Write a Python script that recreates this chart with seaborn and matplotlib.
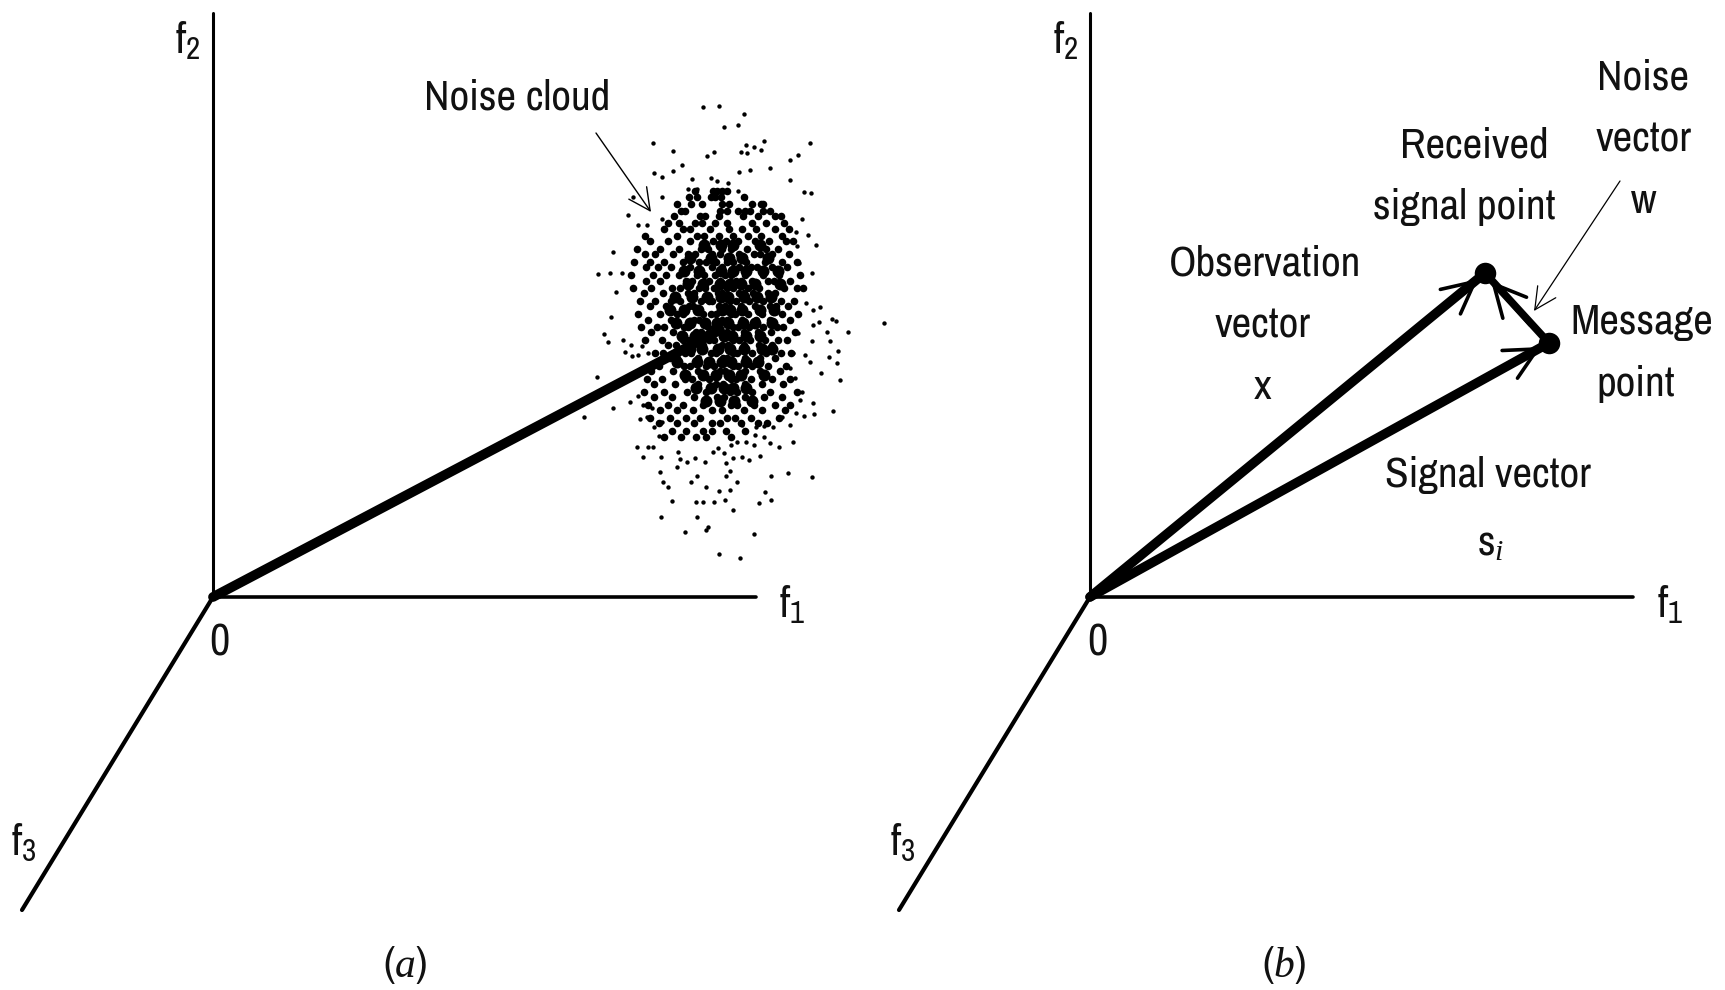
import matplotlib
matplotlib.use('Agg')
import matplotlib.pyplot as plt
import seaborn as sns

sns.set_style('white')
plt.rcParams['font.family'] = ['Archivo Narrow', 'Liberation Sans', 'DejaVu Sans']
plt.rcParams['mathtext.fontset'] = 'custom'
plt.rcParams['mathtext.rm'] = 'Archivo Narrow'
plt.rcParams['mathtext.it'] = 'Liberation Serif:italic'

origin_a = (213, 597)
origin_b = (1090, 597)
f1_len = 543
f2_top = 13
f3_end_dx = -191
f3_end_dy = 313

signal_a_end = (720, 330)
received_pt = (1485, 273)
message_pt = (1549, 343)

# sparse specks around the noise cloud
sparse_x = [703, 719, 744, 724, 738, 653, 673, 707, 714, 741, 746, 747, 754, 761, 764, 810, 798, 790, 770,
            654, 662, 673, 682, 739, 750, 790, 692, 711, 717, 728, 738, 688, 697, 804, 811, 662, 633, 745,
            628, 638, 647, 662, 802, 808, 816, 796, 797, 799, 812, 613, 598, 610, 622, 616, 611, 806, 813,
            820, 813, 819, 832, 836, 884, 604, 608, 623, 625, 631, 632, 638, 642, 648, 597, 638, 630, 613,
            584, 643, 652, 659, 640, 647, 654, 662, 659, 637, 648, 653, 643, 661, 678, 677, 680, 687, 695,
            705, 713, 718, 724, 726, 733, 742, 749, 760, 731, 737, 746, 754, 770, 779, 793, 660, 697, 691,
            663, 668, 706, 719, 730, 726, 730, 737, 771, 788, 812, 765, 759, 771, 672, 696, 703, 714, 725,
            733, 661, 697, 685, 706, 708, 754, 719, 740, 848, 827, 830, 812, 798, 838, 829, 837, 821, 840,
            810, 793, 805, 790, 795, 802, 800, 813, 814, 833, 804, 796, 782, 790, 773, 764, 756, 742, 755, 764]
sparse_y = [107, 106, 114, 127, 125, 143, 151, 156, 152, 152, 145, 153, 147, 150, 141, 143, 155, 160, 168,
            173, 177, 171, 165, 172, 170, 180, 179, 178, 181, 183, 191, 189, 189, 192, 193, 197, 197, 198,
            215, 225, 225, 219, 219, 235, 245, 232, 246, 263, 273, 252, 274, 273, 273, 292, 317, 303, 310,
            307, 325, 322, 319, 321, 323, 334, 342, 340, 352, 345, 356, 355, 346, 353, 377, 396, 402, 408,
            417, 405, 408, 411, 419, 417, 427, 422, 436, 447, 447, 447, 457, 457, 452, 467, 459, 462, 458,
            462, 452, 448, 453, 463, 458, 457, 460, 456, 445, 442, 442, 445, 443, 447, 442, 472, 476, 482,
            482, 487, 487, 491, 490, 476, 471, 482, 476, 473, 477, 492, 503, 500, 501, 502, 502, 502, 500,
            510, 517, 517, 532, 530, 527, 534, 554, 558, 332, 332, 341, 341, 333, 351, 357, 363, 373, 380,
            362, 353, 355, 368, 378, 392, 400, 403, 414, 411, 416, 413, 417, 425, 427, 426, 427, 425, 435, 437]

# dense part of the cloud, one uneven row of blobs at a time
row_y = [191, 197, 204, 211, 216, 223, 229, 236, 241, 249, 254, 262, 267, 275, 281, 288, 293, 301, 306,
         314, 320, 327, 332, 340, 345, 353, 358, 366, 371, 379, 384, 392, 397, 405, 410, 418, 423, 431, 437]
row_x = [
    [695, 713, 717, 722, 727],
    [689, 697, 711, 715, 721, 744],
    [677, 691, 702, 722, 729, 752, 761, 763],
    [681, 685, 720, 727, 738, 745, 750, 763, 770],
    [674, 700, 705, 719, 743, 758, 775, 781],
    [668, 679, 695, 702, 715, 727, 752, 766, 784],
    [664, 683, 690, 710, 729, 742, 756, 775, 789],
    [645, 677, 697, 704, 719, 733, 748, 761, 782],
    [650, 668, 690, 713, 726, 738, 755, 769, 786, 793],
    [637, 660, 679, 701, 708, 722, 731, 747, 766, 778],
    [645, 655, 673, 688, 695, 712, 720, 739, 754, 760, 772, 789],
    [634, 650, 664, 683, 699, 706, 716, 727, 733, 746, 765, 782, 797],
    [646, 658, 671, 690, 712, 722, 739, 751, 757, 772, 787],
    [631, 653, 666, 679, 697, 704, 715, 725, 731, 745, 763, 779, 800],
    [646, 660, 686, 692, 709, 720, 736, 741, 752, 768, 774, 790],
    [633, 651, 672, 680, 699, 705, 714, 727, 733, 748, 759, 784, 797, 803],
    [644, 663, 688, 694, 718, 722, 739, 744, 753, 768, 775],
    [640, 655, 671, 680, 701, 709, 712, 730, 736, 749, 763, 781, 794],
    [650, 666, 689, 693, 719, 725, 741, 755, 770, 776, 788],
    [638, 660, 677, 683, 703, 711, 716, 731, 735, 748, 762, 782, 798],
    [648, 671, 694, 699, 722, 727, 742, 756, 770, 790],
    [641, 657, 664, 684, 688, 708, 715, 733, 738, 749, 763, 777, 783],
    [651, 673, 696, 701, 721, 727, 744, 758, 771, 795],
    [645, 662, 683, 689, 709, 714, 733, 739, 750, 765, 778, 787],
    [668, 676, 699, 703, 722, 728, 744, 759, 772],
    [655, 663, 685, 691, 711, 716, 733, 737, 752, 766, 781, 791],
    [670, 677, 698, 723, 727, 745, 760, 775],
    [659, 684, 690, 706, 714, 733, 738, 752, 768, 786],
    [651, 673, 698, 720, 725, 745, 760, 780],
    [647, 662, 685, 692, 709, 731, 736, 751, 772, 790],
    [654, 675, 698, 716, 723, 745, 762, 783],
    [644, 664, 687, 706, 730, 737, 752, 770, 797],
    [654, 672, 694, 717, 724, 745, 764, 782],
    [648, 668, 683, 703, 731, 737, 754, 775, 790],
    [660, 677, 693, 712, 722, 744, 762, 785],
    [650, 670, 686, 700, 727, 735, 751, 779],
    [659, 677, 694, 712, 720, 741, 758, 767],
    [672, 686, 703, 712, 726, 745],
    [664, 681, 696, 706, 731],
]

# black middle of the cloud, where the specks run together
core_y = [245, 258, 271, 284, 297, 310, 323, 336, 349, 362, 375, 388, 401]
core_x = [
    [704, 721, 733, 760],
    [690, 711, 729, 742, 768],
    [684, 699, 721, 733, 746, 763, 778],
    [688, 703, 720, 730, 741, 755, 780],
    [675, 692, 707, 721, 728, 744, 757, 771],
    [670, 684, 698, 722, 730, 742, 760, 774],
    [676, 690, 705, 717, 728, 743, 755, 772],
    [682, 695, 708, 724, 732, 746, 760],
    [690, 702, 718, 730, 744, 762, 772],
    [677, 697, 709, 722, 731, 746, 758],
    [685, 703, 716, 729, 741, 764],
    [696, 711, 724, 733, 746],
    [706, 720, 734, 752],
]

# axis name, x, y
axis_labels = [
    ('f$_{2}$', 188, 40), ('f$_{1}$', 792, 604), ('f$_{3}$', 24, 842), ('0', 219, 643),
    ('f$_{2}$', 1066, 40), ('f$_{1}$', 1670, 604), ('f$_{3}$', 903, 842), ('0', 1097, 643),
]
note_text = ['Noise cloud', 'Noise', 'vector', 'w', 'Received', 'signal point', 'Observation', 'vector', 'x',
             'Message', 'point', 'Signal vector', 's$_{\\mathit{i}}$']
note_x = [517, 1643, 1644, 1644, 1474, 1464, 1265, 1263, 1263, 1642, 1636, 1488, 1491]
note_y = [97, 77, 140, 201, 145, 207, 264, 326, 387, 322, 384, 475, 544]
panel_text = ['($\\mathit{a}$)', '($\\mathit{b}$)']
panel_x = [405, 1284]
panel_y = [965, 965]

fig, ax = plt.subplots(figsize=(17.25, 9.9), dpi=100)
fig.subplots_adjust(0, 0, 1, 1)
ax.set_xlim(0, 1725)
ax.set_ylim(990, 0)
ax.axis('off')


def seg(p, q, lw):
    sns.lineplot(x=[p[0], q[0]], y=[p[1], q[1]], color='black', linewidth=lw,
                 sort=False, estimator=None, ax=ax, legend=False, solid_capstyle='round')


def head(p, q, lw=2.6, ms=38):
    # open v head, tip at q
    ax.annotate('', xy=q, xytext=p, arrowprops=dict(arrowstyle='->,head_length=0.6,head_width=0.3', lw=lw,
                                                    color='black', mutation_scale=ms, shrinkA=0, shrinkB=0))


# the three axes in both panels
for ox, oy in [origin_a, origin_b]:
    seg((ox, oy), (ox + f1_len, oy), 2.6)
    seg((ox, oy), (ox, f2_top), 2.2)
    seg((ox, oy), (ox + f3_end_dx, oy + f3_end_dy), 3.0)

# panel a
cloud_x = [x for row in row_x for x in row]
cloud_y = [y for y, row in zip(row_y, row_x) for x in row]
fill_x = [x for row in core_x for x in row]
fill_y = [y for y, row in zip(core_y, core_x) for x in row]
sns.scatterplot(x=cloud_x, y=cloud_y, s=30, color='black', linewidth=0, ax=ax, legend=False)
sns.scatterplot(x=fill_x, y=fill_y, s=75, color='black', linewidth=0, ax=ax, legend=False)
sns.scatterplot(x=sparse_x, y=sparse_y, s=10, color='black', linewidth=0, ax=ax, legend=False)
seg(origin_a, signal_a_end, 7.0)
head((596, 133), (651, 212), lw=1.0, ms=26)

# panel b
seg(origin_b, received_pt, 6.8)
seg(origin_b, message_pt, 6.8)
seg(message_pt, received_pt, 5.5)
head((1400, 343), (1478, 279))
head((1451, 397), (1541, 347))
head((1530, 325), (1491, 281))
sns.scatterplot(x=[received_pt[0], message_pt[0]], y=[received_pt[1], message_pt[1]], s=240, color='black',
                linewidth=0, ax=ax, legend=False)
head((1620, 181), (1534, 311), lw=0.9, ms=26)

for t, x, y in axis_labels:
    ax.text(x, y, t, fontsize=32, ha='center', va='center', color='#111111')
for t, x, y in zip(note_text, note_x, note_y):
    ax.text(x, y, t, fontsize=31, ha='center', va='center', color='#111111')
for t, x, y in zip(panel_text, panel_x, panel_y):
    ax.text(x, y, t, fontsize=30, ha='center', va='center', color='#111111')

plt.savefig('out.png', dpi=100)
